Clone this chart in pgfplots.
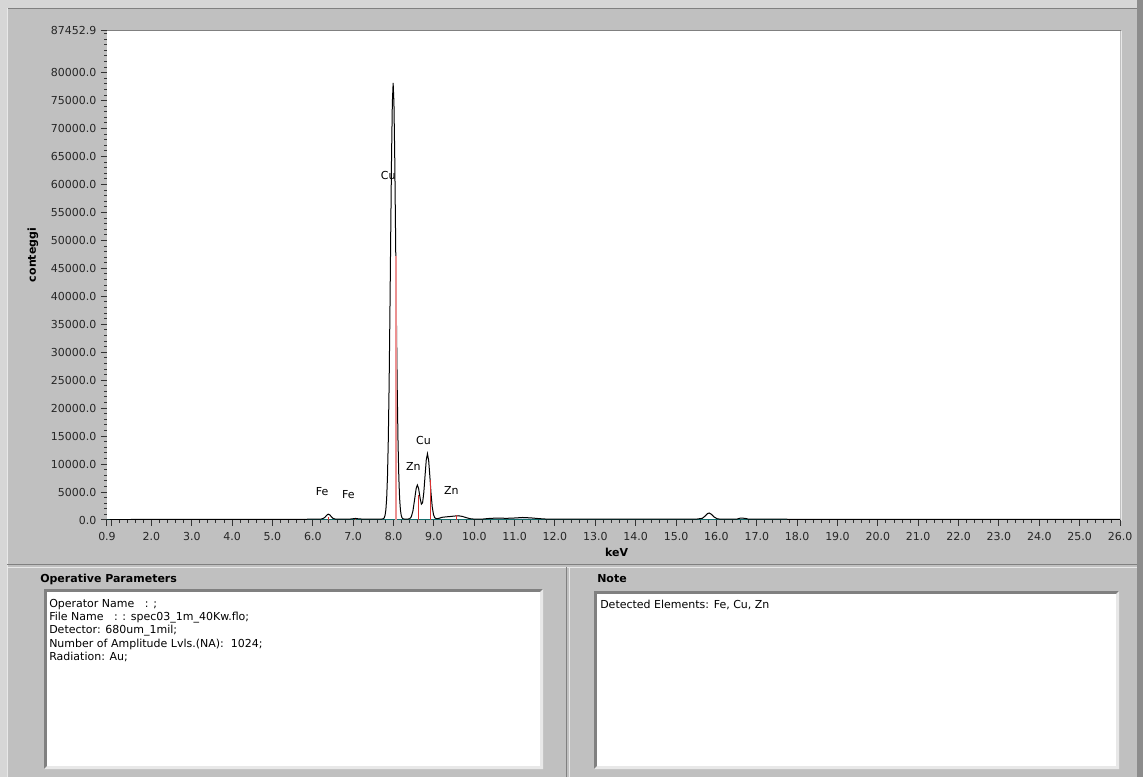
\documentclass[border=0pt]{standalone}
\usepackage{pgfplots}
\pgfplotsset{compat=1.18}
\usepackage{fontspec}
\setmainfont{DejaVu Sans}
\definecolor{lvgray}{RGB}{192,192,192}
\definecolor{lvlight}{RGB}{214,214,214}
\definecolor{lvdark}{RGB}{128,128,128}
\definecolor{lvshadow}{RGB}{140,140,140}
\definecolor{lvhi}{RGB}{232,232,232}
\definecolor{peakred}{RGB}{215,50,50}
\definecolor{peakpink}{RGB}{235,145,145}
\definecolor{baseteal}{RGB}{20,110,110}
\definecolor{fillnavy}{RGB}{20,30,120}

\pgfplotstableread{
x y
0.90 0
1.00 60
1.50 90
2.00 100
3.00 110
4.00 110
5.00 120
5.80 130
6.10 150
6.20 170
6.25 250
6.30 480
6.34 820
6.38 1050
6.42 920
6.46 580
6.50 300
6.55 180
6.65 150
6.90 150
7.00 230
7.06 280
7.12 220
7.25 150
7.60 150
7.70 160
7.75 235
7.77 400
7.79 840
7.81 1840
7.83 3920
7.85 7820
7.87 14350
7.89 24050
7.91 36750
7.93 51100
7.95 64650
7.97 74550
7.99 78150
8.01 74550
8.03 64650
8.05 51100
8.07 36750
8.09 24050
8.11 14350
8.13 7820
8.15 3920
8.17 1840
8.19 840
8.21 400
8.23 235
8.26 180
8.32 160
8.36 170
8.40 235
8.44 576
8.48 1610
8.52 3565
8.56 5630
8.59 6250
8.62 5670
8.66 3820
8.69 2840
8.72 3100
8.75 4930
8.78 7870
8.81 10700
8.84 11850
8.87 10670
8.90 7790
8.93 4635
8.96 2280
8.99 970
9.02 400
9.06 230
9.12 280
9.20 480
9.30 560
9.40 620
9.50 700
9.60 760
9.70 650
9.80 420
9.90 230
10.00 160
10.20 160
10.40 300
10.60 340
10.80 300
11.00 360
11.20 450
11.40 380
11.60 250
11.80 160
12.50 150
13.50 140
14.50 140
15.50 150
15.65 300
15.72 700
15.78 1150
15.82 1250
15.88 1000
15.95 500
16.02 220
16.10 150
16.50 150
16.60 350
16.70 300
16.80 150
18.00 130
20.00 120
22.00 110
24.00 110
26.00 100
}\spectrum

\pgfplotstableread{
x y
6.40 600
7.06 150
8.63 4500
8.91 7200
9.57 900
}\lines

\begin{document}
\begin{tikzpicture}
\begin{scope}[shift={(0,582.75pt)}, x=0.75pt, y=-0.75pt]
  % panel backgrounds
  \fill[lvgray] (0,0) rectangle (1143,777);
  \fill[lvlight] (0,0) rectangle (1143,8);
  \fill[lvlight] (0,0) rectangle (7,777);
  \fill[lvshadow] (1137,0) rectangle (1143,777);
  \draw[lvdark, line width=0.75pt] (7,8.5) -- (1137,8.5);
  \draw[lvhi, line width=0.75pt] (7.5,8) -- (7.5,777);
  % separator between plot panel and bottom panels
  \draw[lvdark, line width=0.75pt] (7,564.5) -- (1137,564.5);
  \draw[lvhi, line width=0.75pt] (7,567.5) -- (1137,567.5);
  \draw[lvdark, line width=0.75pt] (566,567) -- (566,777);
  \draw[lvhi, line width=0.75pt] (569,567) -- (569,777);
  % top border of plot area
  \draw[lvdark, line width=0.75pt] (106,31) -- (1121,31);
  \draw[lvhi, line width=0.75pt] (1121,31) -- (1121,521);
  % left text box
  \fill[lvdark] (44,589) rectangle (543,769);
  \fill[lvhi] (543,589) -- (543,769) -- (44,769) -- (47,766) -- (540,766) -- (540,592) -- cycle;
  \fill[white] (47,592) rectangle (540,766);
  % right text box
  \fill[lvdark] (594,591) rectangle (1119,769);
  \fill[lvhi] (1119,591) -- (1119,769) -- (594,769) -- (597,766) -- (1116,766) -- (1116,594) -- cycle;
  \fill[white] (597,594) rectangle (1116,766);
  % headers and texts
  \begin{scope}[every node/.style={inner sep=0pt, anchor=base west, font=\fontsize{8.25pt}{9.75pt}\selectfont}]
    \node[font=\bfseries\fontsize{8.25pt}{9.75pt}\selectfont] at (40,582) {Operative Parameters};
    \node[font=\bfseries\fontsize{8.25pt}{9.75pt}\selectfont] at (597,582) {Note};
    \node at (49,607) {Operator Name\ \ \ : ;};
    \node at (49,620) {File Name\ \ \ : : spec03\_1m\_40Kw.flo;};
    \node at (49,633) {Detector: 680um\_1mil;};
    \node at (49,647) {Number of Amplitude Lvls.(NA):\ \ 1024;};
    \node at (49,660) {Radiation: Au;};
    \node at (600,608) {Detected Elements: Fe, Cu, Zn};
  \end{scope}
\end{scope}

\begin{axis}[
  at={(80.25pt,192.75pt)}, anchor=south west,
  scale only axis, width=759.75pt, height=366.75pt,
  xmin=0.9, xmax=26, ymin=0, ymax=87452.9,
  axis background/.style={fill=white},
  axis line style={draw=none},
  tick align=outside, xtick pos=bottom, ytick pos=left,
  scaled x ticks=false, scaled y ticks=false,
  xtick={0.9,1,2,3,4,5,6,7,8,9,10,11,12,13,14,15,16,17,18,19,20,21,22,23,24,25,26},
  xticklabels={0.9,,2.0,3.0,4.0,5.0,6.0,7.0,8.0,9.0,10.0,11.0,12.0,13.0,14.0,15.0,16.0,17.0,18.0,19.0,20.0,21.0,22.0,23.0,24.0,25.0,26.0},
  minor xtick={1.2,1.4,1.6,1.8,2.2,2.4,2.6,2.8,3.2,3.4,3.6,3.8,4.2,4.4,4.6,4.8,5.2,5.4,5.6,5.8,6.2,6.4,6.6,6.8,7.2,7.4,7.6,7.8,8.2,8.4,8.6,8.8,9.2,9.4,9.6,9.8,10.2,10.4,10.6,10.8,11.2,11.4,11.6,11.8,12.2,12.4,12.6,12.8,13.2,13.4,13.6,13.8,14.2,14.4,14.6,14.8,15.2,15.4,15.6,15.8,16.2,16.4,16.6,16.8,17.2,17.4,17.6,17.8,18.2,18.4,18.6,18.8,19.2,19.4,19.6,19.8,20.2,20.4,20.6,20.8,21.2,21.4,21.6,21.8,22.2,22.4,22.6,22.8,23.2,23.4,23.6,23.8,24.2,24.4,24.6,24.8,25.2,25.4,25.6,25.8},
  ytick={0,5000,10000,15000,20000,25000,30000,35000,40000,45000,50000,55000,60000,65000,70000,75000,80000,87452.9},
  yticklabels={0.0,5000.0,10000.0,15000.0,20000.0,25000.0,30000.0,35000.0,40000.0,45000.0,50000.0,55000.0,60000.0,65000.0,70000.0,75000.0,80000.0,87452.9},
  minor ytick={1000,2000,3000,4000,6000,7000,8000,9000,11000,12000,13000,14000,16000,17000,18000,19000,21000,22000,23000,24000,26000,27000,28000,29000,31000,32000,33000,34000,36000,37000,38000,39000,41000,42000,43000,44000,46000,47000,48000,49000,51000,52000,53000,54000,56000,57000,58000,59000,61000,62000,63000,64000,66000,67000,68000,69000,71000,72000,73000,74000,76000,77000,78000,79000,81000,82000,83000,84000,85000,86000,87000},
  major tick length=4.5pt, minor tick length=2pt,
  every tick/.style={black!80, line width=0.75pt},
  every tick label/.append style={font=\fontsize{8.25pt}{9pt}\selectfont, text=black!85},
  xticklabel style={yshift=-1.5pt},
  xlabel={keV}, ylabel={conteggi},
  label style={font=\bfseries\fontsize{8.25pt}{9pt}\selectfont},
  xlabel style={at={(axis description cs:0.503,0)}, anchor=center, yshift=-24pt},
  ylabel style={at={(axis description cs:0,0.542)}, anchor=center, yshift=55.5pt},
]
  \node[font=\fontsize{8.25pt}{9pt}\selectfont, inner sep=0pt] at (axis cs:7.87,61650) {Cu};
  \node[font=\fontsize{8.25pt}{9pt}\selectfont, inner sep=0pt] at (axis cs:8.74,14150) {Cu};
  \node[font=\fontsize{8.25pt}{9pt}\selectfont, inner sep=0pt] at (axis cs:8.49,9500) {Zn};
  \node[font=\fontsize{8.25pt}{9pt}\selectfont, inner sep=0pt] at (axis cs:9.43,5200) {Zn};
  \node[font=\fontsize{8.25pt}{9pt}\selectfont, inner sep=0pt] at (axis cs:6.23,5020) {Fe};
  \node[font=\fontsize{8.25pt}{9pt}\selectfont, inner sep=0pt] at (axis cs:6.88,4480) {Fe};
  \addplot[fill=fillnavy, draw=none] coordinates {(10.35,0) (10.40,220) (11.60,220) (11.65,0)} \closedcycle;
  \addplot[baseteal, line width=2pt] coordinates {(0.9,0) (26,0)};
  \addplot[black, line width=0.75pt] table[x=x, y=y] {\spectrum};
  \addplot[peakpink, line width=1.5pt] coordinates {(8.05,0) (8.05,47200)};
  \addplot[peakred, line width=0.75pt, ycomb] table[x=x, y=y] {\lines};
\end{axis}
\end{tikzpicture}
\end{document}
